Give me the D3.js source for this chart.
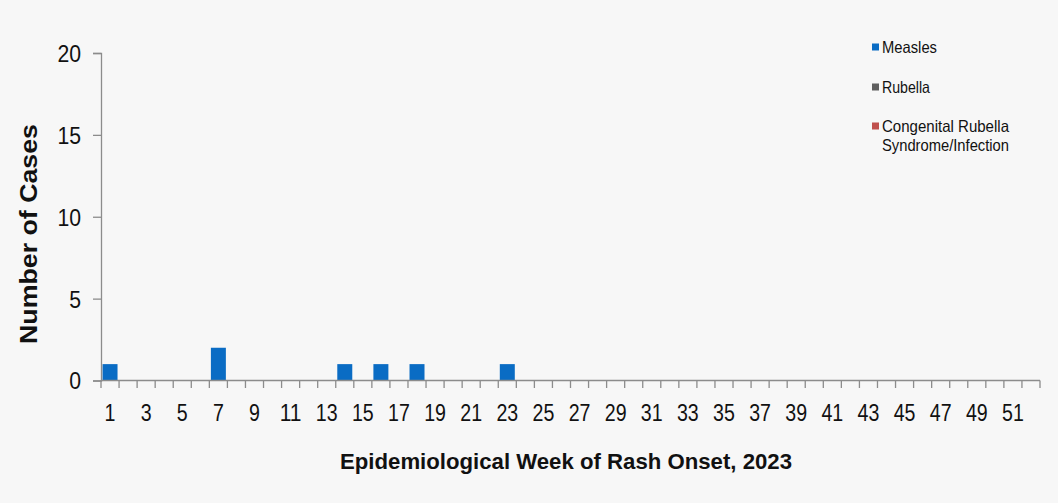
<!DOCTYPE html>
<html>
<head>
<meta charset="utf-8">
<script src="https://cdn.jsdelivr.net/npm/d3@7"></script>
<style>
  html, body { margin: 0; padding: 0; background: #f7f7f7; }
  svg { display: block; }
  text { font-family: "Liberation Sans", Arial, sans-serif; fill: #111; }
</style>
</head>
<body>
<svg id="chart" width="1058" height="503"></svg>
<script>
// ---- Data ----
const weeks = d3.range(1, 53);               // epidemiological weeks 1..52
const measlesWeeks = [1, 7, 14, 16, 18, 23];
const measlesCases = [1, 2, 1, 1, 1, 1];
const rubellaWeeks = [];
const rubellaCases = [];
const crsWeeks = [];
const crsCases = [];
const yTicks = [0, 5, 10, 15, 20];
const xTickLabels = weeks.filter(w => w % 2 === 1);
const seriesNames = ["Measles", "Rubella", "Congenital Rubella|Syndrome/Infection"];
const seriesColors = ["#0a6cc4", "#5f5f5f", "#c0504d"];

// ---- Layout ----
const svg = d3.select("#chart");
const mLeft = 101, mRight = 1040, mTop = 53, mBottom = 380.5;

const x = d3.scaleBand().domain(weeks).range([mLeft, mRight])
  .paddingInner(0.17).paddingOuter(0.085);
const y = d3.scaleLinear().domain([0, 20]).range([mBottom, mTop]);

svg.append("rect").attr("width", 1058).attr("height", 503).attr("fill", "#f7f7f7");

// Bars
const series = [
  { w: measlesWeeks, v: measlesCases, c: seriesColors[0] },
  { w: rubellaWeeks, v: rubellaCases, c: seriesColors[1] },
  { w: crsWeeks, v: crsCases, c: seriesColors[2] }
];
series.forEach(s => {
  svg.append("g").selectAll("rect")
    .data(s.w.map((w, i) => ({ w, v: s.v[i] })))
    .join("rect")
    .attr("x", d => x(d.w))
    .attr("width", x.bandwidth())
    .attr("y", d => y(d.v))
    .attr("height", d => y(0) - y(d.v))
    .attr("fill", s.c);
});

const axisColor = "#8c8c8c";

// Y axis
const yAxis = svg.append("g").attr("transform", `translate(${mLeft},0)`)
  .call(d3.axisLeft(y).tickValues(yTicks).tickSize(8).tickPadding(12));
yAxis.select(".domain").attr("stroke", axisColor).attr("stroke-width", 1.3);
yAxis.selectAll(".tick line").attr("stroke", axisColor).attr("stroke-width", 1.3);
yAxis.selectAll(".tick text").attr("font-size", 23.5).attr("fill", "#111")
  .attr("font-family", "Liberation Sans, Arial, sans-serif").attr("dy", "0.36em")
  .attr("textLength", d => String(d).length * 11.8)
  .attr("lengthAdjust", "spacingAndGlyphs");

// X axis: line with tick marks at band boundaries
const step = x.step();
const x0 = x.range()[0];
const xg = svg.append("g");
xg.append("line").attr("x1", mLeft).attr("x2", mRight).attr("y1", mBottom).attr("y2", mBottom)
  .attr("stroke", axisColor).attr("stroke-width", 1.3);
xg.selectAll("line.tk").data(d3.range(0, weeks.length + 1)).join("line")
  .attr("class", "tk")
  .attr("x1", i => x0 + i * step).attr("x2", i => x0 + i * step)
  .attr("y1", mBottom).attr("y2", mBottom + 7.5)
  .attr("stroke", axisColor).attr("stroke-width", 1.3);
xg.selectAll("text").data(xTickLabels).join("text")
  .attr("x", w => x(w) + x.bandwidth() / 2)
  .attr("y", 421)
  .attr("text-anchor", "middle")
  .attr("font-size", 23)
  .attr("textLength", w => String(w).length * 10.9)
  .attr("lengthAdjust", "spacingAndGlyphs")
  .text(w => w);

// Axis titles
svg.append("text")
  .attr("x", (340 + 792) / 2).attr("y", 469)
  .attr("text-anchor", "middle")
  .attr("font-size", 22).attr("font-weight", "bold")
  .attr("textLength", 452).attr("lengthAdjust", "spacingAndGlyphs")
  .text("Epidemiological Week of Rash Onset, 2023");

svg.append("text")
  .attr("transform", "translate(37,234) rotate(-90)")
  .attr("text-anchor", "middle")
  .attr("font-size", 23).attr("font-weight", "bold")
  .attr("textLength", 220).attr("lengthAdjust", "spacingAndGlyphs")
  .text("Number of Cases");

// Legend
const legendY = [47, 87, 126];
const legendWidths = [[55], [48], [127, 127]];
const lg = svg.append("g");
seriesNames.forEach((name, i) => {
  lg.append("rect").attr("x", 872).attr("y", legendY[i] - 3.5)
    .attr("width", 7).attr("height", 7).attr("fill", seriesColors[i]);
  const lines = name.split("|");
  lines.forEach((ln, j) => {
    lg.append("text").attr("x", 882).attr("y", legendY[i] + 6 + j * 19)
      .attr("font-size", 16.5)
      .attr("textLength", legendWidths[i][j])
      .attr("lengthAdjust", "spacingAndGlyphs")
      .text(ln);
  });
});
</script>
</body>
</html>
